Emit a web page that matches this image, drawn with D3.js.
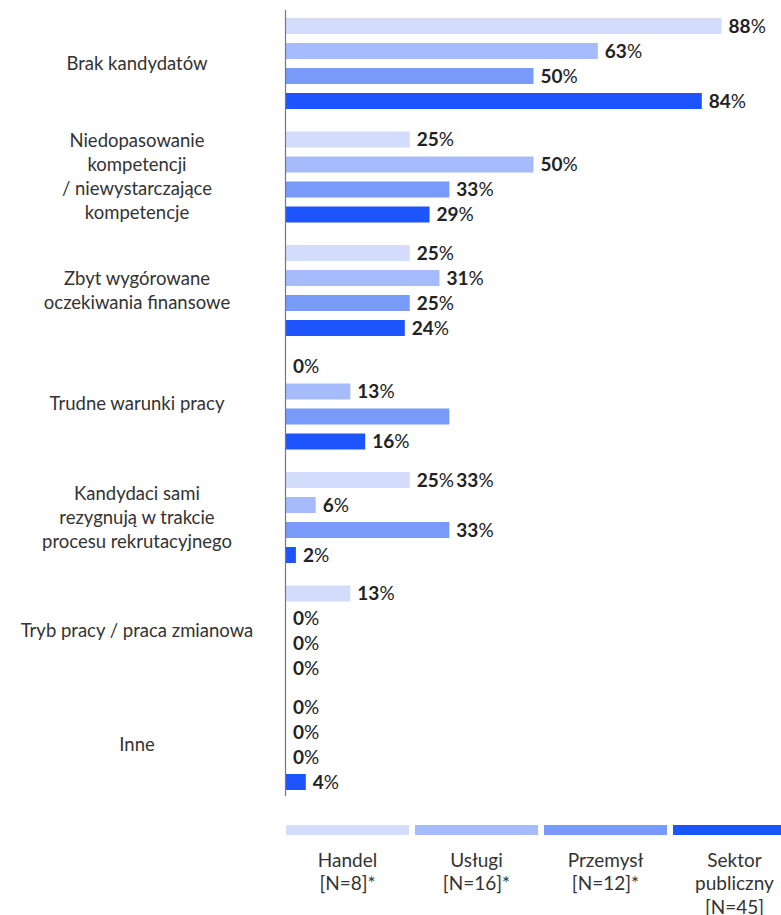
<!DOCTYPE html>
<html>
<head>
<meta charset="utf-8">
<script src="https://cdn.jsdelivr.net/npm/d3@7"></script>
<style>
  html, body { margin: 0; padding: 0; background: #fff; }
  svg { display: block; font-family: Lato, "Noto Sans", sans-serif; }
</style>
</head>
<body>
<svg id="chart" width="781" height="915"></svg>
<script>
// Reasons for recruitment difficulties, by sector (% of answers)
const categories = [
  ["Brak kandydatów"],
  ["Niedopasowanie", "kompetencji", "/ niewystarczające", "kompetencje"],
  ["Zbyt wygórowane", "oczekiwania finansowe"],
  ["Trudne warunki pracy"],
  ["Kandydaci sami", "rezygnują w trakcie", "procesu rekrutacyjnego"],
  ["Tryb pracy / praca zmianowa"],
  ["Inne"]
];
const seriesNames = ["Handel", "Usługi", "Przemysł", "Sektor publiczny"];
const seriesLegend = [
  ["Handel", "[N=8]*"],
  ["Usługi", "[N=16]*"],
  ["Przemysł", "[N=12]*"],
  ["Sektor", "publiczny", "[N=45]"]
];
const handel   = [88, 25, 25, 0, 25, 13, 0];
const uslugi   = [63, 50, 31, 13, 6, 0, 0];
const przemysl = [50, 33, 25, 33, 33, 0, 0];
const sektor   = [84, 29, 24, 16, 2, 0, 4];
const seriesValues = [handel, uslugi, przemysl, sektor];
const colors = ["#d3dcfb", "#a6bbfb", "#789bf9", "#1e54fc"];
// One label in the source layout sits in a different row than its bar
const labelMoves = [
  { cat: 3, ser: 2, toCat: 4, toSer: 0 }
];

const svg = d3.select("#chart");
const x0 = 286;
const x = d3.scaleLinear().domain([0, 100]).range([x0, 781]);
const yCat = d3.scaleBand().domain(d3.range(categories.length))
  .range([13.5, 794.5]).paddingInner(0.119).paddingOuter(0);
const ySer = d3.scaleBand().domain(d3.range(seriesNames.length))
  .range([0, yCat.bandwidth()]).paddingInner(0.36).paddingOuter(0.18);

const cells = [];
categories.forEach((c, ci) => {
  seriesValues.forEach((vals, si) => {
    cells.push({ ci, si, v: vals[ci] });
  });
});

// bars
svg.append("g").selectAll("rect").data(cells).join("rect")
  .attr("x", x0)
  .attr("y", d => yCat(d.ci) + ySer(d.si))
  .attr("width", d => x(d.v) - x0)
  .attr("height", ySer.bandwidth())
  .attr("fill", d => colors[d.si]);

// axis line
svg.append("line")
  .attr("x1", x0 - 0.5).attr("x2", x0 - 0.5)
  .attr("y1", 10).attr("y2", 796)
  .attr("stroke", "#777").attr("stroke-width", 1.2);

// value labels
const labels = svg.append("g").selectAll("text").data(cells).join("text")
  .attr("x", d => x(d.v) + 7)
  .attr("y", d => {
    const m = labelMoves.find(m => m.cat === d.ci && m.ser === d.si);
    const ci = m ? m.toCat : d.ci, si = m ? m.toSer : d.si;
    return yCat(ci) + ySer(si) + ySer.bandwidth() / 2;
  })
  .attr("dy", "0.36em")
  .attr("font-size", 19)
  .attr("fill", "#222");
labels.append("tspan").attr("font-weight", 700).text(d => d.v);
labels.append("tspan").attr("font-weight", 400).text("%");

// category labels
const catG = svg.append("g").selectAll("text").data(categories).join("text")
  .attr("text-anchor", "middle")
  .attr("font-size", 18.5)
  .attr("fill", "#333")
  .attr("transform", (d, i) => `translate(137,${yCat(i) + yCat.bandwidth() / 2})`);
catG.each(function (lines) {
  const t = d3.select(this);
  const lh = 24;
  lines.forEach((l, k) => {
    t.append("tspan").attr("x", 0)
      .attr("y", (k - (lines.length - 1) / 2) * lh)
      .attr("dy", "0.35em").text(l);
  });
});

// legend
const legX = d3.scaleBand().domain(d3.range(seriesNames.length))
  .range([286, 796]).paddingInner(0.0465).paddingOuter(0);
const leg = svg.append("g").selectAll("g").data(seriesLegend).join("g")
  .attr("transform", (d, i) => `translate(${legX(i)},0)`);
leg.append("rect")
  .attr("x", 0).attr("y", 825)
  .attr("width", legX.bandwidth()).attr("height", 10)
  .attr("fill", (d, i) => colors[i]);
leg.append("text")
  .attr("text-anchor", "middle")
  .attr("font-size", 19)
  .attr("fill", "#333")
  .each(function (lines) {
    const t = d3.select(this);
    lines.forEach((l, k) => {
      t.append("tspan").attr("x", legX.bandwidth() / 2)
        .attr("y", 860 + k * 23.5).attr("dy", "0.35em").text(l);
    });
  });
</script>
</body>
</html>
